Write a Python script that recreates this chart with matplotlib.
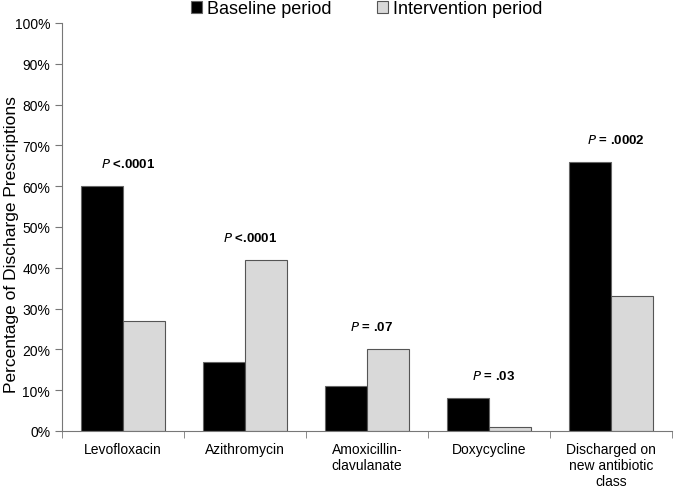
import matplotlib.pyplot as plt
import numpy as np
from matplotlib.ticker import FixedLocator, NullFormatter

plt.rcParams['font.family'] = ['Liberation Sans', 'DejaVu Sans']

# Data
categories = ["Levofloxacin", "Azithromycin", "Amoxicillin-\nclavulanate",
              "Doxycycline", "Discharged on\nnew antibiotic\nclass"]
baseline = [60, 17, 11, 8, 66]
intervention = [27, 42, 20, 1, 33]
p_labels = [" <.0001", " <.0001", " = .07", " = .03", " = .0002"]

fig = plt.figure(figsize=(6.77, 4.89), dpi=100)
ax = fig.add_axes([0.0916, 0.1166, 0.9010, 0.8344])

x = np.arange(len(categories))
w = 0.344
ax.bar(x - w/2, baseline, w, color='black', edgecolor='#666666', linewidth=0.8,
       label='Baseline period')
ax.bar(x + w/2, intervention, w, color='#d9d9d9', edgecolor='#555555', linewidth=0.8,
       label='Intervention period')

# P value annotations
for i in range(len(categories)):
    top = max(baseline[i], intervention[i])
    ax.text(x[i] + 0.04, top + 5.5, r"$\bf{\it{P}}$" + p_labels[i],
            ha='center', va='center', fontsize=9.5, fontweight='bold')

ax.set_xlim(-0.5, len(categories) - 0.5)
ax.set_ylim(0, 100)
ax.set_yticks(np.arange(0, 101, 10))
ax.set_yticklabels([f"{v}%" for v in range(0, 101, 10)], fontsize=10)

ax.set_xticks(x)
ax.set_xticklabels(categories, fontsize=10)
ax.tick_params(axis='x', length=0, pad=8)
ax.xaxis.set_minor_locator(FixedLocator(np.arange(-0.5, len(categories), 1)))
ax.xaxis.set_minor_formatter(NullFormatter())
ax.tick_params(axis='x', which='minor', length=5, color='#777777', direction='out')
ax.tick_params(axis='y', length=5, color='#777777', direction='out')

for s in ['top', 'right']:
    ax.spines[s].set_visible(False)
for s in ['left', 'bottom']:
    ax.spines[s].set_color('#777777')

fig.text(12 / 677, 0.5, "Percentage of Discharge Prescriptions",
         rotation=90, ha='center', va='center', fontsize=12.5)

ax.legend(loc='upper center', bbox_to_anchor=(0.5, 1.095), ncol=2, frameon=False,
          fontsize=13, handlelength=0.6, handleheight=0.6, handletextpad=0.3,
          columnspacing=2.5)

fig.savefig("out.png", dpi=100)
